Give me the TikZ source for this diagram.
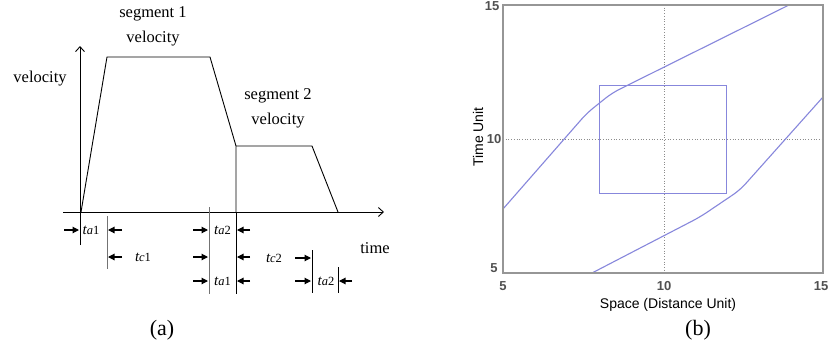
\documentclass[tikz,border=0pt]{standalone}
\usepackage{fontspec}
\setmainfont{Liberation Serif}
\setsansfont{Liberation Sans}
\usetikzlibrary{arrows.meta}
\definecolor{plotblue}{RGB}{135,135,220}
\definecolor{framegray}{RGB}{150,150,150}
\definecolor{ticktext}{RGB}{80,80,80}
\tikzset{
  lbl/.style={inner sep=0pt, font=\fontsize{16.5}{18}\selectfont},
  sublbl/.style={inner sep=0pt},
  axisline/.style={line width=0.9pt, -{Straight Barb[length=5pt,width=9pt]}},
  prof/.style={line width=0.9pt, line join=miter},
  tickline/.style={line width=0.9pt},
  tickgray/.style={line width=0.9pt, draw=black!55},
  darr/.style={line width=1.1pt, -{Triangle[length=6.5pt,width=6.5pt]}},
  ticklbl/.style={inner sep=0pt, text=ticktext, font=\sffamily\bfseries\fontsize{13}{14}\selectfont},
  curve/.style={draw=plotblue, line width=1.1pt, rounded corners=8pt},
  gridline/.style={draw=black!45, line width=0.7pt, dotted},
}
\newcommand{\tsub}[2]{{\fontsize{15}{15}\selectfont\itshape t}{\fontsize{12.5}{13}\selectfont\itshape #1\upshape #2}}
\begin{document}
\begin{tikzpicture}[x=1pt,y=-1pt]
\path[use as bounding box, fill=white] (0,0) rectangle (830,346);

% ---------- panel (a) ----------
\coordinate (ybot) at (80,245);
\coordinate (ytop) at (80,46);
\coordinate (xl) at (63,212);
\coordinate (xr) at (384,212);
\draw[axisline] (ybot) -- (ytop);
\draw[axisline] (xl) -- (xr);

\coordinate (p0) at (81,212);
\coordinate (p1) at (107,57);
\coordinate (p2) at (210,57);
\coordinate (p3) at (236,146);
\coordinate (p4) at (236,212);
\coordinate (p5) at (312,146);
\coordinate (p6) at (338,212);
\draw[prof] (p0) -- (p1) -- (p2) -- (p3) -- (p4);
\draw[prof] (p3) -- (p5) -- (p6);

% marker lines
\draw[tickgray] (107,216) -- (107,269);
\draw[tickgray] (209,207) -- (209,294);
\draw[tickline] (p4) -- (236,294);
\draw[tickline] (312,250) -- (312,293);
\draw[tickline] (338,267) -- (338,293);

% row 1
\draw[darr] (64,230) -- (79,230);
\node[sublbl] (ta1a) at (91,230) {\tsub{a}{1}};
\draw[darr] (122,230) -- (108,230);
\draw[darr] (193,230) -- (208,230);
\node[sublbl] (ta2a) at (222.5,230) {\tsub{a}{2}};
\draw[darr] (250,230) -- (237,230);
% row 2
\draw[darr] (122,257) -- (108,257);
\node[sublbl] (tc1) at (143,257) {\tsub{c}{1}};
\draw[darr] (193,257) -- (208,257);
\draw[darr] (250,257) -- (237,257);
\node[sublbl] (tc2) at (274,258) {\tsub{c}{2}};
\draw[darr] (295,258) -- (311,258);
% row 3
\draw[darr] (193,281) -- (208,281);
\node[sublbl] (ta1b) at (222.5,281) {\tsub{a}{1}};
\draw[darr] (250,281) -- (237,281);
\draw[darr] (295,281) -- (311,281);
\node[sublbl] (ta2b) at (326,281) {\tsub{a}{2}};
\draw[darr] (352,281) -- (339,281);

\node[lbl] (s1) at (153,14) {segment 1};
\node[lbl] (v1) at (153,39) {velocity};
\node[lbl] (vy) at (40,79) {velocity};
\node[lbl] (s2) at (278,96) {segment 2};
\node[lbl] (v2) at (278,121) {velocity};
\node[lbl] (time) at (375,248) {time};
\node[inner sep=0pt, font=\fontsize{22}{24}\selectfont] (capa) at (162,330) {(a)};

% ---------- panel (b) ----------
\draw[gridline] (664,5) -- (664,273);
\draw[gridline] (503,139) -- (823,139);
\draw[draw=plotblue, line width=1pt] (599,85) rectangle (726,193);
\draw[curve] (503,209) -- (587,113) -- (612,93) -- (789,5);
\draw[curve] (592,273) -- (700,217) -- (740,190) -- (823,97);
\draw[draw=framegray, line width=1.6pt] (503,5) rectangle (823,273);

\node[ticklbl] (y15) at (492,6) {15};
\node[ticklbl] (y10) at (494,139) {10};
\node[ticklbl] (y5) at (494,268) {5};
\node[ticklbl] (x5) at (503,286) {5};
\node[ticklbl] (x10) at (664,286) {10};
\node[ticklbl] (x15) at (821,286) {15};
\node[inner sep=0pt, font=\sffamily\fontsize{14}{15}\selectfont, rotate=90] (ylab) at (478,137) {Time Unit};
\node[inner sep=0pt, font=\sffamily\fontsize{14}{15}\selectfont] (xlab) at (668,305) {Space (Distance Unit)};
\node[inner sep=0pt, font=\fontsize{22}{24}\selectfont] (capb) at (698,330) {(b)};
\end{tikzpicture}
\end{document}
